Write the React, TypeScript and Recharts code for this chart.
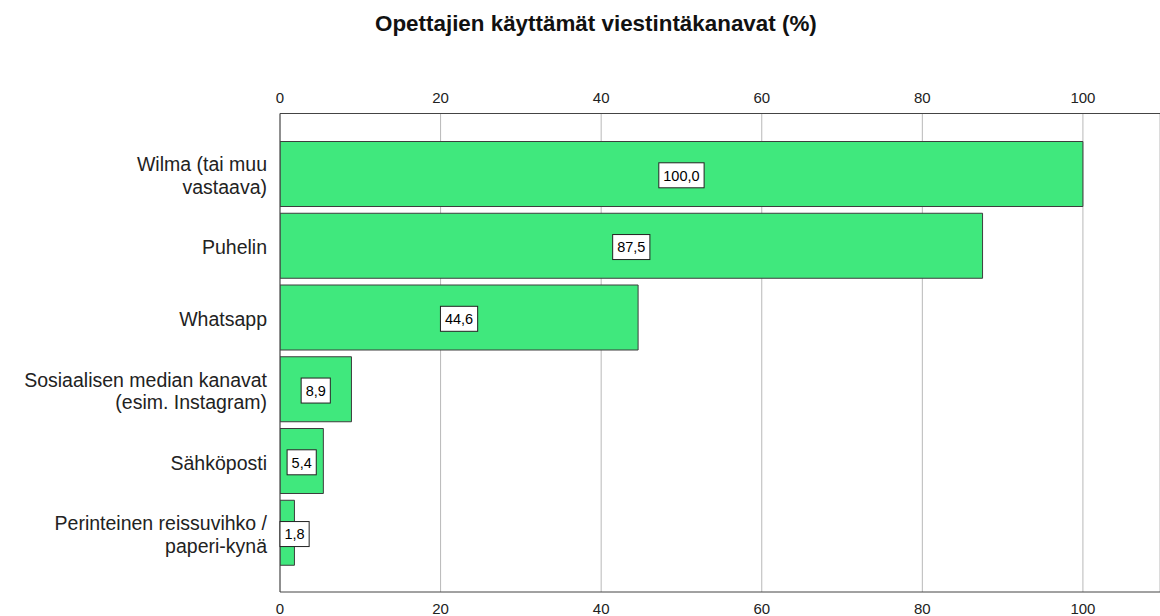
import React from "react";
import {
  BarChart,
  Bar,
  XAxis,
  YAxis,
  CartesianGrid,
  LabelList,
} from "recharts";

const categories: string[] = [
  "Wilma (tai muu\nvastaava)",
  "Puhelin",
  "Whatsapp",
  "Sosiaalisen median kanavat\n(esim. Instagram)",
  "Sähköposti",
  "Perinteinen reissuvihko /\npaperi-kynä",
];

const percents: number[] = [100.0, 87.5, 44.6, 8.9, 5.4, 1.8];

const xTicks: number[] = [0, 20, 40, 60, 80, 100];

const TITLE = "Opettajien käyttämät viestintäkanavat (%)";

const data = categories.map((name, i) => ({ name, value: percents[i] }));

const FONT = "'Liberation Sans', Arial, sans-serif";

// multi-line category labels, right aligned
const CategoryTick = (props: any) => {
  const { x, y, payload } = props;
  const lines = String(payload.value).split("\n");
  const lh = 22.5;
  const startY = y - ((lines.length - 1) * lh) / 2 + 8.3;
  return (
    <text
      x={x}
      y={startY}
      textAnchor="end"
      fill="#222"
      fontSize={19.5}
      fontFamily={FONT}
    >
      {lines.map((line, i) => (
        <tspan key={i} x={x} dy={i === 0 ? 0 : lh}>
          {line}
        </tspan>
      ))}
    </text>
  );
};

// boxed value label in the middle of each bar
const ValueLabel = (props: any) => {
  const { x, y, width, height, value } = props;
  const text = Number(value).toFixed(1).replace(".", ",");
  const fs = 14.5;
  let tw = 0;
  for (const ch of text) tw += ch === "," ? 0.278 * fs : 0.556 * fs;
  const boxW = tw + 9;
  const boxH = 25;
  const cy = y + height / 2;
  const cx = x + width / 2;
  const bx = Math.max(cx - boxW / 2, x);
  return (
    <g>
      <rect
        x={bx}
        y={cy - 11.2}
        width={boxW}
        height={boxH}
        fill="#fff"
        stroke="#222"
        strokeWidth={1}
      />
      <text
        x={bx + boxW / 2}
        y={cy + 6.5}
        textAnchor="middle"
        fontSize={fs}
        fontFamily={FONT}
        fill="#000"
      >
        {text}
      </text>
    </g>
  );
};

export default function App() {
  return (
    <div
      style={{
        position: "absolute",
        left: 0,
        top: 0,
        width: 1160,
        height: 616,
        background: "#fff",
      }}
    >
      <svg
        width={1160}
        height={50}
        style={{ position: "absolute", left: 0, top: 0 }}
      >
        <text
          x={375}
          y={31}
          fontSize={22.4}
          fontWeight="bold"
          fontFamily={FONT}
          fill="#111"
        >
          {TITLE}
        </text>
      </svg>
      <BarChart
        width={1160}
        height={616}
        data={data}
        layout="vertical"
        margin={{ top: 0, right: 0, bottom: 0, left: 0 }}
      >
        <CartesianGrid
          xAxisId="top"
          horizontal={false}
          vertical={true}
          stroke="#b8b8b8"
        />
        <XAxis
          xAxisId="top"
          orientation="top"
          type="number"
          domain={[0, 109.6]}
          allowDataOverflow
          ticks={xTicks}
          height={113.5}
          tickSize={0}
          tickMargin={11}
          axisLine={{ stroke: "#444" }}
          tickLine={false}
          tick={{ fill: "#222", fontSize: 15, fontFamily: FONT }}
        />
        <XAxis
          xAxisId="bottom"
          orientation="bottom"
          type="number"
          domain={[0, 109.6]}
          allowDataOverflow
          ticks={xTicks}
          height={24}
          tickSize={0}
          tickMargin={11}
          axisLine={{ stroke: "#444" }}
          tickLine={false}
          tick={{ fill: "#222", fontSize: 15, fontFamily: FONT }}
        />
        <YAxis
          type="category"
          dataKey="name"
          width={280}
          padding={{ top: 25, bottom: 23 }}
          tickSize={0}
          tickMargin={13}
          axisLine={{ stroke: "#444" }}
          tickLine={false}
          tick={<CategoryTick />}
          interval={0}
        />
        <Bar
          xAxisId="top"
          dataKey="value"
          fill="#40e87d"
          stroke="#3d3d3d"
          strokeWidth={1}
          barSize={65}
          isAnimationActive={false}
        >
          <LabelList dataKey="value" content={<ValueLabel />} />
        </Bar>
      </BarChart>
    </div>
  );
}
